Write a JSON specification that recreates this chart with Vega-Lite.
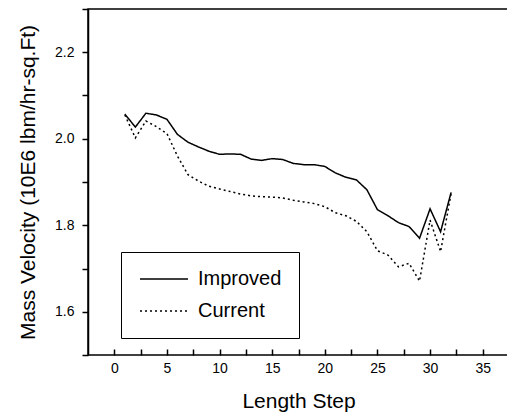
{
  "$schema": "https://vega.github.io/schema/vega-lite/v6.json",
  "width": 421,
  "height": 346,
  "autosize": "none",
  "padding": {"left": 88, "top": 9, "right": 0, "bottom": 62},
  "background": "white",
  "config": {
    "font": "Liberation Sans",
    "view": {"stroke": "black", "strokeWidth": 1.5},
    "axis": {"ticks": true, "tickColor": "black", "tickWidth": 1.5, "tickSize": 6, "tickOpacity": 1}
  },
  "data": {"values": [
    {"step": 1, "series": "Improved", "v": 2.057},
    {"step": 2, "series": "Improved", "v": 2.027},
    {"step": 3, "series": "Improved", "v": 2.059},
    {"step": 4, "series": "Improved", "v": 2.055},
    {"step": 5, "series": "Improved", "v": 2.045},
    {"step": 6, "series": "Improved", "v": 2.010},
    {"step": 7, "series": "Improved", "v": 1.992},
    {"step": 8, "series": "Improved", "v": 1.981},
    {"step": 9, "series": "Improved", "v": 1.971},
    {"step": 10, "series": "Improved", "v": 1.964},
    {"step": 11, "series": "Improved", "v": 1.965},
    {"step": 12, "series": "Improved", "v": 1.964},
    {"step": 13, "series": "Improved", "v": 1.953},
    {"step": 14, "series": "Improved", "v": 1.950},
    {"step": 15, "series": "Improved", "v": 1.954},
    {"step": 16, "series": "Improved", "v": 1.952},
    {"step": 17, "series": "Improved", "v": 1.943},
    {"step": 18, "series": "Improved", "v": 1.940},
    {"step": 19, "series": "Improved", "v": 1.940},
    {"step": 20, "series": "Improved", "v": 1.936},
    {"step": 21, "series": "Improved", "v": 1.921},
    {"step": 22, "series": "Improved", "v": 1.911},
    {"step": 23, "series": "Improved", "v": 1.905},
    {"step": 24, "series": "Improved", "v": 1.882},
    {"step": 25, "series": "Improved", "v": 1.836},
    {"step": 26, "series": "Improved", "v": 1.822},
    {"step": 27, "series": "Improved", "v": 1.806},
    {"step": 28, "series": "Improved", "v": 1.797},
    {"step": 29, "series": "Improved", "v": 1.770},
    {"step": 30, "series": "Improved", "v": 1.838},
    {"step": 31, "series": "Improved", "v": 1.785},
    {"step": 32, "series": "Improved", "v": 1.876},
    {"step": 1, "series": "Current", "v": 2.055},
    {"step": 2, "series": "Current", "v": 2.002},
    {"step": 3, "series": "Current", "v": 2.041},
    {"step": 4, "series": "Current", "v": 2.028},
    {"step": 5, "series": "Current", "v": 2.012},
    {"step": 6, "series": "Current", "v": 1.960},
    {"step": 7, "series": "Current", "v": 1.917},
    {"step": 8, "series": "Current", "v": 1.902},
    {"step": 9, "series": "Current", "v": 1.890},
    {"step": 10, "series": "Current", "v": 1.884},
    {"step": 11, "series": "Current", "v": 1.878},
    {"step": 12, "series": "Current", "v": 1.872},
    {"step": 13, "series": "Current", "v": 1.868},
    {"step": 14, "series": "Current", "v": 1.866},
    {"step": 15, "series": "Current", "v": 1.865},
    {"step": 16, "series": "Current", "v": 1.863},
    {"step": 17, "series": "Current", "v": 1.858},
    {"step": 18, "series": "Current", "v": 1.854},
    {"step": 19, "series": "Current", "v": 1.850},
    {"step": 20, "series": "Current", "v": 1.843},
    {"step": 21, "series": "Current", "v": 1.829},
    {"step": 22, "series": "Current", "v": 1.822},
    {"step": 23, "series": "Current", "v": 1.809},
    {"step": 24, "series": "Current", "v": 1.785},
    {"step": 25, "series": "Current", "v": 1.741},
    {"step": 26, "series": "Current", "v": 1.731},
    {"step": 27, "series": "Current", "v": 1.704},
    {"step": 28, "series": "Current", "v": 1.712},
    {"step": 29, "series": "Current", "v": 1.671},
    {"step": 30, "series": "Current", "v": 1.812},
    {"step": 31, "series": "Current", "v": 1.739},
    {"step": 32, "series": "Current", "v": 1.874}
  ]},
  "mark": {"type": "line", "color": "black", "strokeWidth": 1.5, "clip": true},
  "encoding": {
    "x": {
      "field": "step", "type": "quantitative",
      "scale": {"domain": [-2.5, 37.5], "nice": false, "zero": false},
      "axis": {
        "zindex": 1,
        "offset": -6,
        "domain": false,
        "title": "Length Step",
        "titleFontSize": 21, "titleFontWeight": "normal", "titlePadding": 15,
        "values": [0, 2.5, 5, 7.5, 10, 12.5, 15, 17.5, 20, 22.5, 25, 27.5, 30, 32.5, 35, 37.5],
        "labelExpr": "datum.value % 5 === 0 ? datum.label : ''",
        "labelFontSize": 14, "labelPadding": 6,
        "labelColor": "black", "titleColor": "black",
        "grid": false
      }
    },
    "y": {
      "field": "v", "type": "quantitative",
      "scale": {"domain": [1.5, 2.3], "nice": false, "zero": false},
      "axis": {
        "zindex": 1,
        "domainColor": "black", "domainWidth": 1.5,
        "title": "Mass Velocity (10E6 lbm/hr-sq.Ft)",
        "titleFontSize": 21, "titleFontWeight": "normal", "titlePadding": 16,
        "values": [1.5, 1.6, 1.7, 1.8, 1.9, 2.0, 2.1, 2.2, 2.3],
        "format": ".1f",
        "labelExpr": "round(datum.value * 10) % 2 === 0 ? datum.label : ''",
        "labelFontSize": 14, "labelPadding": 8,
        "labelColor": "black", "titleColor": "black",
        "grid": false
      }
    },
    "strokeDash": {
      "field": "series", "type": "nominal",
      "scale": {"domain": ["Improved", "Current"], "range": [[1, 0], [2, 3]]},
      "legend": {
        "title": null,
        "orient": "none", "legendX": 33, "legendY": 243,
        "symbolType": "M-1,0H5", "symbolSize": 256, "symbolStrokeWidth": 1.5,
        "symbolStrokeColor": "black",
        "labelFontSize": 20, "labelColor": "black", "labelOffset": 40,
        "padding": 17, "rowPadding": 12,
        "strokeColor": "black", "fillColor": "white"
      }
    }
  }
}
